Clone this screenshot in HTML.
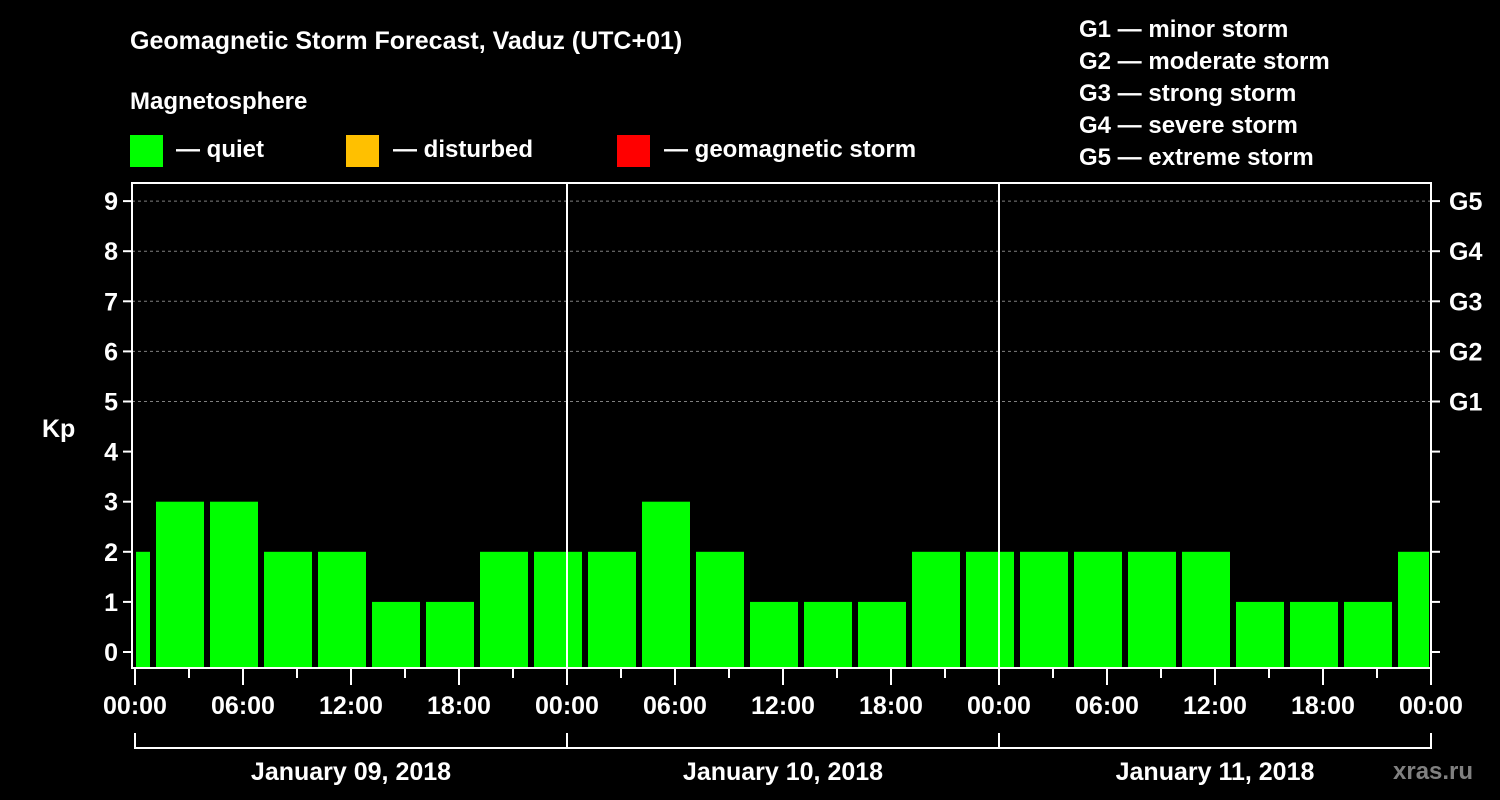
<!DOCTYPE html>
<html><head><meta charset="utf-8"><style>
html,body{margin:0;padding:0;background:#000;width:1500px;height:800px;overflow:hidden}
svg text{font-family:"Liberation Sans",Arial,sans-serif;font-weight:bold;fill:#fff}
</style></head><body>
<svg id="chart" width="1500" height="800" xmlns="http://www.w3.org/2000/svg">
<rect width="1500" height="800" fill="#000"/>
<text x="130" y="49" font-size="25">Geomagnetic Storm Forecast, Vaduz (UTC+01)</text>
<text x="130" y="109" font-size="24">Magnetosphere</text>
<g><rect x="130" y="135" width="33" height="32" fill="#00ff00"/><text x="176" y="157" font-size="24">— quiet</text></g>
<g><rect x="346" y="135" width="33" height="32" fill="#ffc000"/><text x="393" y="157" font-size="24">— disturbed</text></g>
<g><rect x="617" y="135" width="33" height="32" fill="#ff0000"/><text x="664" y="157" font-size="24">— geomagnetic storm</text></g>
<g font-size="24">
<text x="1079" y="37">G1 — minor storm</text>
<text x="1079" y="69">G2 — moderate storm</text>
<text x="1079" y="101">G3 — strong storm</text>
<text x="1079" y="133">G4 — severe storm</text>
<text x="1079" y="165">G5 — extreme storm</text>
</g>
<text x="42" y="437" font-size="25">Kp</text>
<text x="1393" y="779" font-size="24" style="fill:#808080">xras.ru</text>
<g id="bars"></g>
<g id="axes"></g>
</svg>
<script>
const startHours = [-2,1,4,7,10,13,16,19,22,25,28,31,34,37,40,43,46,49,52,55,58,61,64,67,70];
const kpValues = [2,3,3,2,2,1,1,2,2,2,3,2,1,1,1,2,2,2,2,2,2,1,1,1,2];
const yTicks = [0,1,2,3,4,5,6,7,8,9];
const gLabels = ["G1","G2","G3","G4","G5"];
const gLevels = [5,6,7,8,9];
const hourLabels = ["00:00","06:00","12:00","18:00","00:00","06:00","12:00","18:00","00:00","06:00","12:00","18:00","00:00"];
const dayLabels = ["January 09, 2018","January 10, 2018","January 11, 2018"];

const NS="http://www.w3.org/2000/svg";
const L=132,R=1431,T=183,B=668;
const x=h=>135+h*18;
const y=k=>652-k*50.1;
function mk(tag,attrs,parent,txt){const e=document.createElementNS(NS,tag);for(const k in attrs)e.setAttribute(k,attrs[k]);if(txt!==undefined)e.textContent=txt;parent.appendChild(e);return e;}
const bars=document.getElementById('bars'), axes=document.getElementById('axes');
function col(k){return k>=5?'#ff0000':(k>=4?'#ffc000':'#00ff00');}
// gridlines
gLevels.forEach(k=>{const g=mk('line',{x1:L,x2:R,y1:y(k),y2:y(k),stroke:'#808080','stroke-width':1,'stroke-dasharray':'3,3'},axes);

});
startHours.forEach((t,i)=>{
 let x0=Math.max(x(t)+3,L+4), x1=Math.min(x(t+3)-3,R-2);
 const r=mk('rect',{x:x0,y:y(kpValues[i]),width:x1-x0,height:B-y(kpValues[i]),fill:col(kpValues[i])},bars);
 
 
});
// frame
const fr=mk('rect',{x:L,y:T,width:R-L,height:B-T,fill:'none',stroke:'#fff','stroke-width':2},axes);


[24,48].forEach(h=>{const d=mk('line',{x1:x(h),x2:x(h),y1:T,y2:B,stroke:'#fff','stroke-width':2},axes);

});
yTicks.forEach(k=>{
 mk('line',{x1:L-9,x2:L,y1:y(k),y2:y(k),stroke:'#fff','stroke-width':2},axes);
 mk('line',{x1:R,x2:R+9,y1:y(k),y2:y(k),stroke:'#fff','stroke-width':2},axes);
 const t=mk('text',{x:L-14,y:y(k)+9,'font-size':25,'text-anchor':'end'},axes,String(k));
 
 
});
gLabels.forEach((g,i)=>{const t=mk('text',{x:R+18,y:y(gLevels[i])+9,'font-size':25},axes,g);

});
for(let h=0;h<=72;h+=3){mk('line',{x1:x(h),x2:x(h),y1:B,y2:B+(h%6===0?17:10),stroke:'#fff','stroke-width':2},axes);}
hourLabels.forEach((s,i)=>{const t=mk('text',{x:x(i*6),y:714,'font-size':25,'text-anchor':'middle'},axes,s);

});
mk('line',{x1:x(0),x2:x(72),y1:748,y2:748,stroke:'#fff','stroke-width':2},axes);
[0,24,48,72].forEach(h=>mk('line',{x1:x(h),x2:x(h),y1:733,y2:749,stroke:'#fff','stroke-width':2},axes));
dayLabels.forEach((s,i)=>{const t=mk('text',{x:x(i*24+12),y:780,'font-size':25,'text-anchor':'middle'},axes,s);

});
</script>
</body></html>
